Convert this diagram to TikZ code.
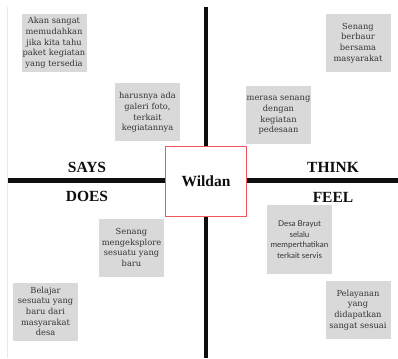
\documentclass[tikz,border=0pt]{standalone}
\usepackage{fontspec}
\setmainfont{DejaVu Serif}
\newfontfamily\judulfont{Liberation Serif}
\newfontfamily\lembutfont{Lato}
\usetikzlibrary{positioning}
\definecolor{kertas}{RGB}{217,217,217}
\definecolor{tinta}{RGB}{52,52,52}
\definecolor{merah}{RGB}{238,88,92}
\definecolor{hitam}{RGB}{14,14,14}
\definecolor{tepi}{RGB}{232,232,232}
\tikzset{
    catatan/.style={
        rectangle,
        fill=kertas,
        text=tinta,
        align=center,
        inner sep=0.5pt,
        minimum width=65pt,
        minimum height=58pt,
        font=\fontsize{8.3}{10.7}\selectfont
    },
    judul/.style={
        font=\judulfont\bfseries\fontsize{15.5}{18}\selectfont,
        text=hitam,
        inner sep=0pt
    }
}

\begin{document}
\begin{tikzpicture}[
    x=1pt, y=-1pt,
    sumbu/.style={
        draw=hitam,
        line width=4.8pt
    },
    pusat/.style={
        draw=merah,
        fill=white,
        line width=1.6pt,
        minimum width=81pt,
        minimum height=70pt,
        font=\judulfont\bfseries\fontsize{15.5}{18}\selectfont,
        text=hitam
    }
]
\useasboundingbox (0,0) rectangle (398,358);

% =========================
% Tepi kiri
% =========================
\draw[tepi, line width=0.8pt] (7.5,7) -- (7.5,358);

% =========================
% Kotak tengah
% =========================
\node[pusat] (wildan) at (206,181.5) {Wildan};

% Ujung sumbu
\coordinate (atas)   at (206,7);
\coordinate (bawah)  at (206,358);
\coordinate (kiri)   at (8,180.5);
\coordinate (kanan)  at (398,180.5);

\draw[sumbu] (atas) -- (wildan.north);
\draw[sumbu] (wildan.south) -- (bawah);
\draw[sumbu] (kiri) -- (wildan.west |- kiri);
\draw[sumbu] (wildan.east |- kanan) -- (kanan);

% =========================
% Judul kuadran
% =========================
\node[judul] (says)  at (87,167)   {SAYS};
\node[judul] (think) at (333,167)  {THINK};
\node[judul] (does)  at (87,196.5) {DOES};
\node[judul] (feel)  at (333,197)  {FEEL};

% =========================
% SAYS
% =========================
\node[catatan] (says1) at (54,43)
    {Akan sangat\\memudahkan\\jika kita tahu\\paket kegiatan\\yang tersedia};

\node[catatan] (says2) at (147.5,112.5)
    {harusnya ada\\galeri foto,\\terkait\\kegiatannya};

% =========================
% THINK
% =========================
\node[catatan] (think1) at (278.5,115.5)
    {merasa senang\\dengan\\kegiatan\\pedesaan};

\node[catatan] (think2) at (358,43)
    {Senang\\berbaur\\bersama\\masyarakat};

% =========================
% DOES
% =========================
\node[catatan] (does1) at (131.5,247.5)
    {Senang\\mengeksplore\\sesuatu yang\\baru};

\node[catatan] (does2) at (45.5,311.5)
    {Belajar\\sesuatu yang\\baru dari\\masyarakat\\desa};

% =========================
% FEEL
% =========================
\node[catatan, minimum height=69pt, font=\lembutfont\fontsize{8}{10.6}\selectfont] (feel1) at (299.5,239.5)
    {Desa Brayut\\selalu\\memperthatikan\\terkait servis};

\node[catatan] (feel2) at (358,310)
    {Pelayanan\\yang\\didapatkan\\sangat sesuai};

\end{tikzpicture}
\end{document}
